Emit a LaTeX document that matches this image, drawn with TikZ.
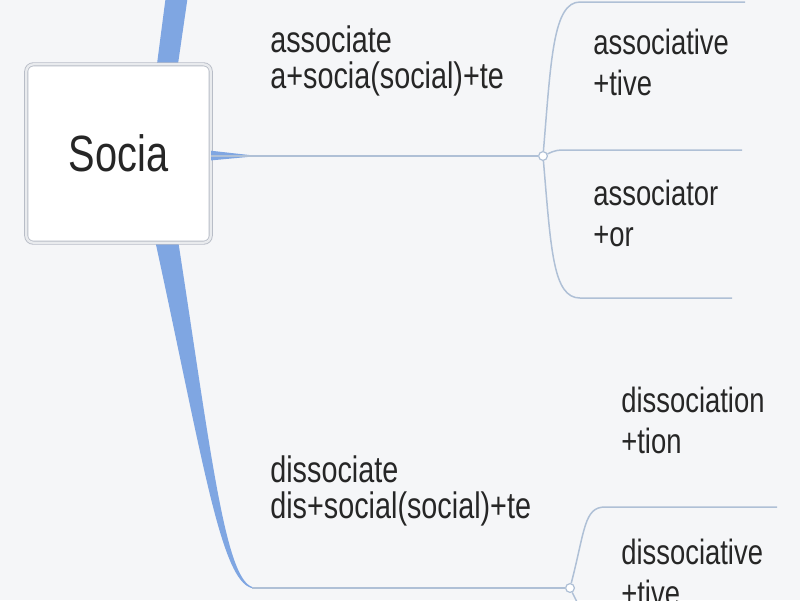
\documentclass[tikz,border=0pt]{standalone}
\usepackage{fontspec}
\newfontfamily\mapfont[FakeStretch=0.78]{Liberation Sans}
\definecolor{paper}{HTML}{F5F6F8}
\definecolor{trunk}{HTML}{7FA6E2}
\definecolor{twig}{HTML}{AFC0D6}
\definecolor{ink}{HTML}{262626}
\definecolor{frame}{HTML}{B8BDC7}
\begin{document}
\begin{tikzpicture}[x=0.02cm, y=-0.02cm,
        hub/.style={rectangle, rounded corners=4pt, draw=frame, line width=0.5pt, double=paper!80!frame, double distance=1.3pt, fill=white, minimum width=105pt, minimum height=101.5pt, text=ink, font=\mapfont\fontsize{29}{32}\selectfont},
        knot/.style={circle, draw=twig, fill=white, line width=0.7pt, inner sep=0pt, minimum size=5pt},
        twig/.style={draw=twig, line width=0.85pt},
        word/.style={anchor=base west, align=left, inner sep=0pt, text=ink, font=\mapfont\fontsize{21}{20.4}\selectfont},
        leaf/.style={word, font=\mapfont\fontsize{20}{23.2}\selectfont}]
    \fill[paper] (0,0) rectangle (800,600);
    \useasboundingbox (0,0) rectangle (800,600);
    \fill[trunk] (157,64) -- (166,-5) -- (188,-5) -- (178,64) -- cycle;
    \fill[trunk] (155,240) .. controls (205,470) and (222,588) .. (255,588.5) -- (255,587.5) .. controls (226,586) and (212,460) .. (178,240) -- cycle;
    \node[hub] (socia) at (118.5,153.5) {Socia};
    \node[knot] (j1) at (543,156) {};
    \node[knot] (j2) at (570,588) {};
    \coordinate (t2) at (252,588);
    \coordinate (a1) at (745,2);
    \coordinate (a2) at (742,150);
    \coordinate (a3) at (732,298);
    \coordinate (d1) at (777,507);
    \coordinate (d2) at (579,606);
    \fill[trunk] ([yshift=3pt]socia.east |- j1) -- (258,156) -- ([yshift=-2.5pt]socia.east |- j1) -- cycle;
    \draw[twig] (socia.east |- j1) -- (j1);
    \draw[twig] (j1) .. controls (551,60) and (553,2) .. (580,2) -- (a1);
    \draw[twig] (j1) .. controls (556,150) .. (572,150) -- (a2);
    \draw[twig] (j1) .. controls (551,250) and (553,298) .. (580,298) -- (a3);
    \draw[twig] (t2) -- (j2);
    \draw[twig] (j2) .. controls (585,530) and (584,507) .. (605,507) -- (d1);
    \draw[twig] (j2) .. controls (574,596) .. (d2);
    \node[word] (assoc) at (270,88) {associate\\a+socia(social)+te};
    \node[word] (dissoc) at (270,518) {dissociate\\dis+social(social)+te};
    \node[leaf] (assocv) at (593,95) {associative\\+tive};
    \node[leaf] (assocr) at (593,246) {associator\\+or};
    \node[leaf] (dissocn) at (621,453) {dissociation\\+tion};
    \node[leaf] (dissocv) at (621,605) {dissociative\\+tive};
\end{tikzpicture}
\end{document}
